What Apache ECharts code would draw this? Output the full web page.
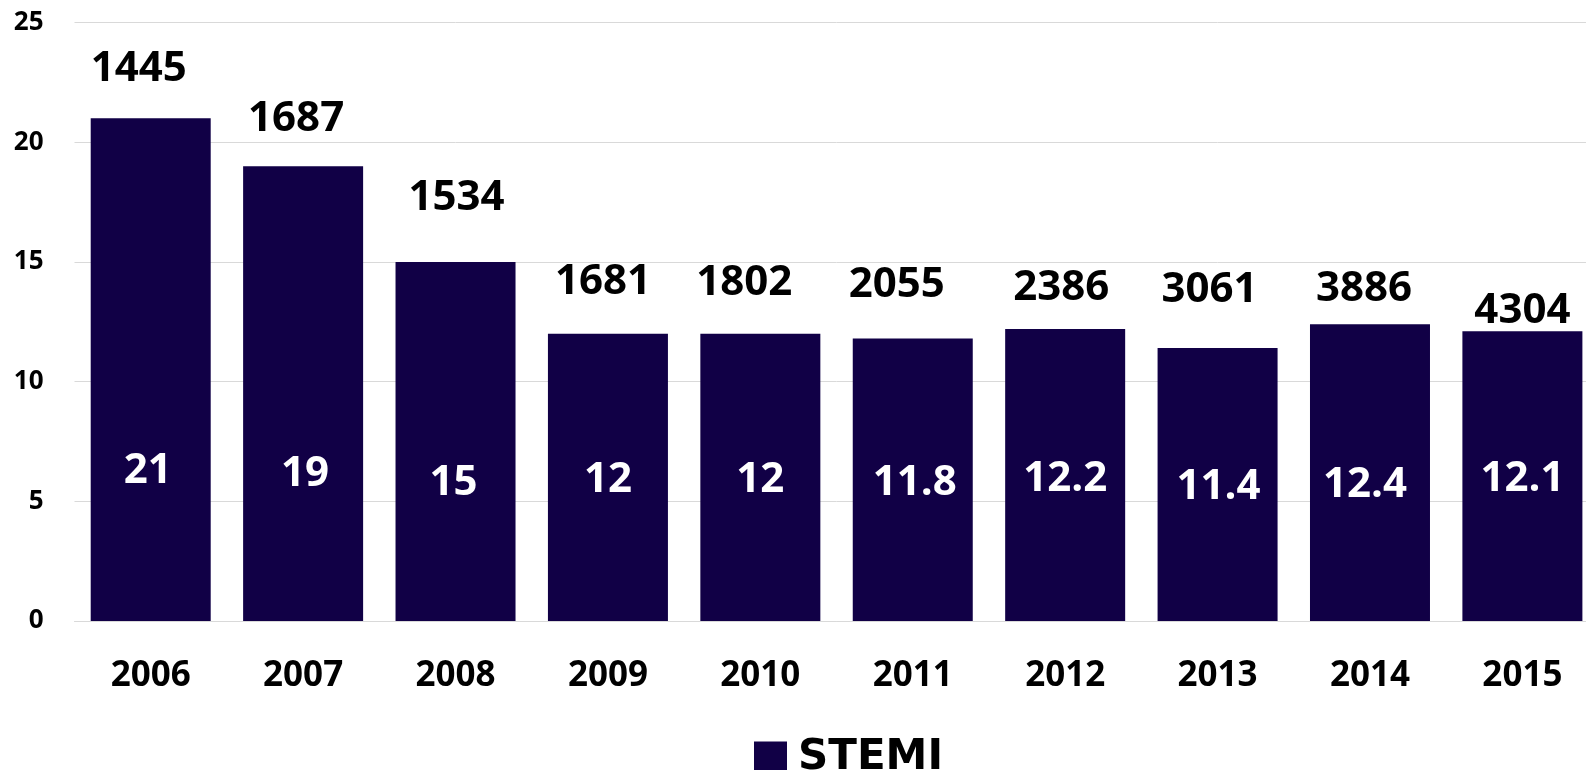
<!DOCTYPE html>
<html>
<head>
<meta charset="utf-8">
<script src="https://cdn.jsdelivr.net/npm/echarts@6/dist/echarts.min.js"></script>
<style>
  html, body { margin: 0; padding: 0; background: #ffffff; overflow: hidden; width: 1586px; height: 770px; }
  #chart { width: 1600px; height: 770px; }
</style>
</head>
<body>
<div id="chart"></div>
<script>
// ---- data ----
const years = ['2006', '2007', '2008', '2009', '2010', '2011', '2012', '2013', '2014', '2015'];
const stemiPct = [21, 19, 15, 12, 12, 11.8, 12.2, 11.4, 12.4, 12.1];
const stemiCount = [1445, 1687, 1534, 1681, 1802, 2055, 2386, 3061, 3886, 4304];
const seriesName = 'STEMI';

// ---- label placement tweaks (layout only) ----
const topDx   = [-12, -7, 1, -5, -16, -16, -4, -8, -6, 0];
const topLift = [49, 47, 64, 52, 51, 53, 41, 58, 35, 20];
const inDx    = [-3, 2, -2, 0, 0, 2, 0, 1, -5, 0];
const inLift  = [150, 147, 138, 141, 141, 138, 142, 134, 136, 142];

const FONT = '"Open Sans", "Liberation Sans", sans-serif';
const BAR = '#110046';
const HALF = 21;

const chart = echarts.init(document.getElementById('chart'), null, { renderer: 'canvas' });

const pctData = stemiPct.map((v, i) => ({
  value: v,
  label: { offset: [inDx[i], -(inLift[i] - HALF)] }
}));
const countData = stemiPct.map((v, i) => ({
  value: v,
  label: { offset: [topDx[i], -(topLift[i] - HALF)] }
}));

chart.setOption({
  animation: false,
  backgroundColor: '#ffffff',
  grid: { left: 74.5, right: 1.4, top: 22.5, bottom: 149, containLabel: false },
  legend: {
    data: [seriesName],
    left: 749,
    top: 732,
    icon: 'rect',
    itemWidth: 33,
    itemHeight: 33,
    textStyle: { fontFamily: '"DejaVu Sans", sans-serif', fontWeight: 'bold', fontSize: 42, color: '#000', padding: [0, 0, 0, 6] }
  },
  xAxis: {
    type: 'category',
    data: years,
    axisLine: { show: true, lineStyle: { color: '#d9d9d9', width: 1 } },
    axisTick: { show: false },
    axisLabel: { fontFamily: FONT, fontWeight: 'bold', fontSize: 35, color: '#000', margin: 38 }
  },
  yAxis: {
    type: 'value',
    min: 0,
    max: 25,
    interval: 5,
    axisLine: { show: false },
    axisTick: { show: false },
    splitLine: { lineStyle: { color: '#d9d9d9', width: 1 } },
    axisLabel: { fontFamily: FONT, fontWeight: 'bold', fontSize: 26, color: '#000', margin: 31 }
  },
  series: [
    {
      name: seriesName,
      type: 'bar',
      barWidth: 120,
      data: pctData,
      itemStyle: { color: BAR },
      label: {
        show: true,
        position: 'insideBottom',
        distance: 0,
        fontFamily: FONT,
        fontWeight: 'bold',
        fontSize: 42,
        color: '#ffffff',
        formatter: p => String(stemiPct[p.dataIndex])
      }
    },
    {
      name: 'count',
      type: 'bar',
      barWidth: 120,
      barGap: '-100%',
      silent: true,
      data: countData,
      itemStyle: { color: 'rgba(0,0,0,0)' },
      label: {
        show: true,
        position: 'top',
        distance: 0,
        fontFamily: FONT,
        fontWeight: 'bold',
        fontSize: 42,
        color: '#000000',
        formatter: p => String(stemiCount[p.dataIndex])
      }
    }
  ]
});
</script>
</body>
</html>
